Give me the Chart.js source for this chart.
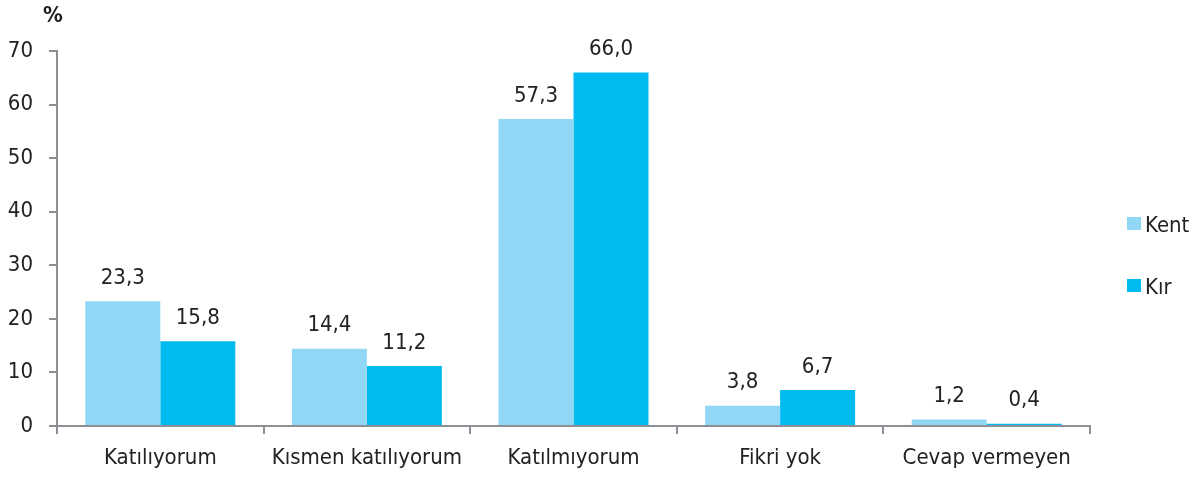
<!DOCTYPE html>
<html>
<head>
<meta charset="utf-8">
<script src="https://cdn.jsdelivr.net/npm/chart.js@4"></script>
<style>
  html, body { margin: 0; padding: 0; background: #fff; }
  #wrap { width: 1203px; height: 477px; }
</style>
</head>
<body>
<div id="wrap"><canvas id="grafik"></canvas></div>
<script>
// -------- DATA --------
const kategoriler = ["Katılıyorum", "Kısmen katılıyorum", "Katılmıyorum", "Fikri yok", "Cevap vermeyen"];
const kent = [23.3, 14.4, 57.3, 3.8, 1.2];
const kir = [15.8, 11.2, 66.0, 6.7, 0.4];
const seriAdlari = ["Kent", "Kır"];
const renkler = ["#8fd7f5", "#00bbf0"];

const FONT = "'DejaVu Sans Condensed', 'DejaVu Sans', sans-serif";
const EKSEN = "#8c8f93";

// -------- HELPERS --------
function virgul(v) {
    return v.toFixed(1).replace(".", ",");
}

const etiketler = {
    id: "etiketler",
    afterDatasetsDraw(chart) {
        const ctx = chart.ctx;
        ctx.save();
        ctx.font = "22px " + FONT;
        ctx.fillStyle = "#222";
        ctx.textAlign = "center";
        ctx.textBaseline = "alphabetic";
        chart.data.datasets.forEach((ds, i) => {
            chart.getDatasetMeta(i).data.forEach((bar, j) => {
                ctx.fillText(virgul(ds.data[j]), bar.x, bar.y - 17.5);
            });
        });

        // "%" başlık
        ctx.font = "bold 22px " + FONT;
        ctx.textAlign = "center";
        ctx.textBaseline = "middle";
        ctx.fillText("%", 53, 16);

        // legend
        const ys = [223.5, 285.5];
        ctx.font = "22px " + FONT;
        ctx.textAlign = "left";
        ctx.textBaseline = "alphabetic";
        seriAdlari.forEach((ad, i) => {
            ctx.fillStyle = renkler[i];
            ctx.fillRect(1127, ys[i] - 6.5, 14, 13);
            ctx.fillStyle = "#222";
            ctx.fillText(ad, 1145, ys[i] + 8);
        });
        ctx.restore();
    }
};

// -------- CHART --------
new Chart(document.getElementById("grafik"), {
    type: "bar",
    data: {
        labels: kategoriler,
        datasets: [
            { label: seriAdlari[0], data: kent, backgroundColor: renkler[0] },
            { label: seriAdlari[1], data: kir, backgroundColor: renkler[1] }
        ]
    },
    options: {
        responsive: true,
        maintainAspectRatio: false,
        animation: false,
        categoryPercentage: 0.726,
        barPercentage: 1.0,
        layout: { padding: { top: 51, right: 113, left: 8, bottom: 0 } },
        plugins: {
            legend: { display: false },
            tooltip: { enabled: false }
        },
        scales: {
            x: {
                afterFit: s => { s.height = 51; },
                grid: {
                    offset: true,
                    drawOnChartArea: false,
                    drawTicks: true,
                    tickLength: 8,
                    color: EKSEN,
                    lineWidth: 2
                },
                border: { display: true, color: EKSEN, width: 2 },
                ticks: { font: { family: FONT, size: 22 }, color: "#222", padding: 11 }
            },
            y: {
                min: 0,
                max: 70,
                afterFit: s => { s.width = 49; },
                grid: {
                    drawOnChartArea: false,
                    drawTicks: true,
                    tickLength: 8,
                    color: EKSEN,
                    lineWidth: 2
                },
                border: { display: true, color: EKSEN, width: 2 },
                ticks: { stepSize: 10, font: { family: FONT, size: 22 }, color: "#222", padding: 16 }
            }
        }
    },
    plugins: [etiketler]
});
</script>
</body>
</html>
